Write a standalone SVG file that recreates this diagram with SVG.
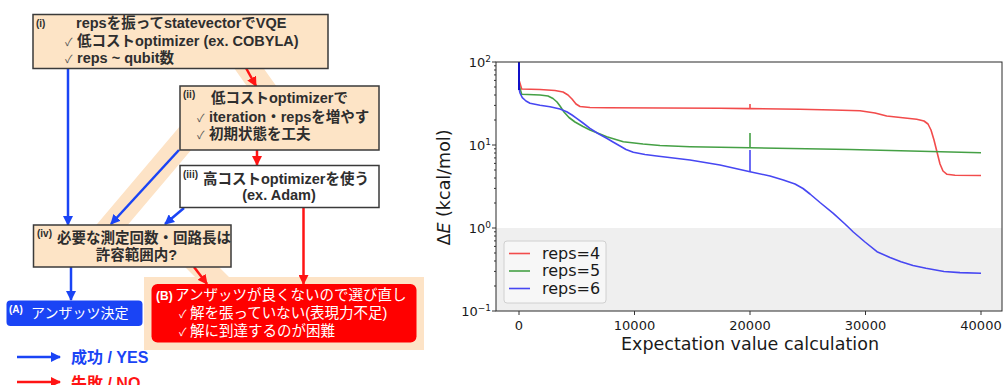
<svg xmlns="http://www.w3.org/2000/svg" width="1004" height="385" viewBox="0 0 1004 385">
<style>
.box{fill:#fde4c6;stroke:#3a3a3a;stroke-width:1.5}
.wbox{fill:#ffffff;stroke:#3a3a3a;stroke-width:1.5}
.t{font-family:"Liberation Sans","Noto Sans CJK JP",sans-serif;font-weight:bold;fill:#2e2e2e;font-size:14.5px}
.sm{font-size:10px}
.ck{font-weight:normal;fill:#555;font-size:11px}
.w{font-family:"Liberation Sans","Noto Sans CJK JP",sans-serif;fill:#ffffff;font-size:14.5px}
.band{fill:none;stroke:#fde3c6;stroke-width:24;stroke-linejoin:round}
.blue{stroke:#1a44f5;stroke-width:2.5;fill:none;marker-end:url(#ab)}
.red{stroke:#ff1414;stroke-width:2.5;fill:none;marker-end:url(#ar)}
.dv{font-family:"DejaVu Sans",sans-serif;fill:#1a1a1a}
.tick{stroke:#333;stroke-width:1}
.cr{fill:none;stroke:#f24b4b;stroke-width:1.6;stroke-linejoin:round}
.cg{fill:none;stroke:#45a045;stroke-width:1.6;stroke-linejoin:round}
.cb{fill:none;stroke:#4747f2;stroke-width:1.6;stroke-linejoin:round}
</style>
<defs>
<marker id="ab" viewBox="0 0 10 10" refX="9" refY="5" markerUnits="userSpaceOnUse" markerWidth="10" markerHeight="10" orient="auto"><path d="M0,0 L10,5 L0,10 z" fill="#1a44f5"/></marker>
<marker id="ar" viewBox="0 0 10 10" refX="9" refY="5" markerUnits="userSpaceOnUse" markerWidth="10" markerHeight="10" orient="auto"><path d="M0,0 L10,5 L0,10 z" fill="#ff1414"/></marker>
</defs>
<rect width="1004" height="385" fill="#ffffff"/>

<g id="highlight">
<polyline class="band" points="236,50 270,98 200,121 95,245 180,245 225,290"/>
<rect x="144" y="277" width="280" height="73" fill="#fde3c6"/>
</g>

<g id="connectors">
<line class="blue" x1="68" y1="68" x2="68" y2="225"/>
<line class="blue" x1="179" y1="150" x2="111" y2="224"/>
<line class="blue" x1="184" y1="208" x2="165" y2="224"/>
<line class="blue" x1="71" y1="267" x2="71" y2="300"/>
<line class="red" x1="246" y1="68" x2="256" y2="86"/>
<line class="red" x1="257" y1="150" x2="257" y2="165"/>
<line class="red" x1="303.5" y1="208" x2="303.5" y2="284"/>
<line class="red" x1="194" y1="267" x2="207" y2="284"/>
</g>

<g id="node-i">
<rect class="box" x="33" y="14.5" width="295" height="54"/>
<text class="t sm" x="36" y="27">(i)</text>
<text class="t" x="76" y="28">repsを振ってstatevectorでVQE</text>
<text class="t" x="65" y="46"><tspan class="ck">✓</tspan><tspan x="77">低コストoptimizer (ex. COBYLA)</tspan></text>
<text class="t" x="65" y="63"><tspan class="ck">✓</tspan><tspan x="77">reps ~ qubit数</tspan></text>
</g>

<g id="node-ii">
<rect class="box" x="180" y="86" width="199" height="64"/>
<text class="t sm" x="183" y="98">(ii)</text>
<text class="t" x="211" y="103">低コストoptimizerで</text>
<text class="t" x="197" y="121.5"><tspan class="ck">✓</tspan><tspan x="209">iteration・repsを増やす</tspan></text>
<text class="t" x="197" y="138.5"><tspan class="ck">✓</tspan><tspan x="209">初期状態を工夫</tspan></text>
</g>

<g id="node-iii">
<rect class="wbox" x="180" y="165.5" width="199" height="42"/>
<text class="t sm" x="183" y="178">(iii)</text>
<text class="t" x="203" y="184">高コストoptimizerを使う</text>
<text class="t" x="279" y="200" text-anchor="middle">(ex. Adam)</text>
</g>

<g id="node-iv">
<rect class="box" x="33.5" y="225" width="197.5" height="42"/>
<text class="t sm" x="37" y="237">(iv)</text>
<text class="t" x="57" y="243">必要な測定回数・回路長は</text>
<text class="t" x="136.5" y="259.5" text-anchor="middle">許容範囲内?</text>
</g>

<g id="node-A">
<rect x="6.5" y="300.5" width="136" height="25.5" rx="4" fill="#1a44f5"/>
<text class="w" x="9" y="313" font-size="10" font-weight="bold" style="font-size:10px">(A)</text>
<text class="w" x="31" y="318" style="font-size:14px">アンザッツ決定</text>
</g>

<g id="node-B">
<rect x="151.5" y="284" width="265" height="58.5" rx="6" fill="#ff0000"/>
<text class="w" x="156" y="300"><tspan font-weight="bold" style="font-size:12px">(B)</tspan><tspan x="175">アンザッツが良くないので選び直し</tspan></text>
<text class="w" x="179" y="318"><tspan style="font-size:11px">✓</tspan><tspan x="190">解を張っていない(表現力不足)</tspan></text>
<text class="w" x="179" y="336"><tspan style="font-size:11px">✓</tspan><tspan x="190">解に到達するのが困難</tspan></text>
</g>

<g id="legend-flow">
<line x1="17" y1="357" x2="60" y2="357" stroke="#1a44f5" stroke-width="2.5" marker-end="url(#ab)"/>
<text class="t" x="71" y="363" style="fill:#1a44f5;font-size:16px">成功 / YES</text>
<line x1="17" y1="382" x2="60" y2="382" stroke="#ff1414" stroke-width="2.5" marker-end="url(#ar)"/>
<text class="t" x="71" y="389" style="fill:#ff1414;font-size:16px">失敗 / NO</text>
</g>

<g id="chart">
<rect x="496" y="62" width="506" height="249" fill="#ffffff"/>
<rect x="496" y="228" width="506" height="83" fill="#efefef"/>

<g id="curves">
<polyline class="cr" points="519,62 519,80 521.7,89 540,89.5 555,90.5 563,92 568,95 572,99 576,104 580,106.5 590,107.5 606.7,107.7 720,108.3 750,108.6 800,109.3 833,110 860,110.7 875,113 886.7,116 905,118 916.7,119.3 924,121 928,124 931,130 934,140 937,152 940,164 943,171 947,174.3 955,175.2 981,175.5"/>
<line class="cr" x1="750" y1="104" x2="750" y2="108.6"/>
<polyline class="cg" points="519,62 519,85 521.7,94.3 540,95 548,96 553,98.5 557,102 560,106 564,112 569,117.5 575,122 583,126.5 590,130 600,134 606.7,136.7 623.3,141.7 643,144 660,145.5 690,146.7 720,147.3 750,147.8 850,149.5 981,152.7"/>
<line class="cg" x1="750" y1="133" x2="750" y2="147.8"/>
<polyline class="cb" points="519,62 519,88 520,93 522.3,97.7 526,101 530,103.3 540,105.3 550,106.7 560,109 566.7,111.7 572,115 576.7,118.3 583,123 590,128.3 598,133.5 606.7,138.3 613,142 620,146 626,149.5 633.3,152.3 645,154.5 656.7,156 690,160 720,165 750,171.7 770,176 783.3,180 795,184 803,188.5 810,194 820,202.5 833.3,213.3 845,224 853.3,232 865,242 877,251.7 890,257.5 901,261.7 913,265.5 926,268.3 944,271.5 960,272.6 981,273.3"/>
<line class="cb" x1="750" y1="150" x2="750" y2="171.7"/>
<line x1="519" y1="62" x2="519" y2="90" stroke="#1010c8" stroke-width="2"/>
</g>

<rect x="496" y="62" width="506" height="249" fill="none" stroke="#2a2a2a" stroke-width="1"/>

<g id="yticks" class="tick">
<line x1="492" y1="62" x2="496" y2="62"/>
<line x1="492" y1="145" x2="496" y2="145"/>
<line x1="492" y1="228" x2="496" y2="228"/>
<line x1="492" y1="311" x2="496" y2="311"/>
<path d="M494,65.8H496M494,70H496M494,74.9H496M494,80.4H496M494,87H496M494,95H496M494,105.4H496M494,120H496M494,148.8H496M494,153H496M494,157.9H496M494,163.4H496M494,170H496M494,178H496M494,188.4H496M494,203H496M494,231.8H496M494,236H496M494,240.9H496M494,246.4H496M494,253H496M494,261H496M494,271.4H496M494,286H496" stroke="#333"/>
</g>
<g id="xticks" class="tick">
<line x1="519" y1="311" x2="519" y2="315"/>
<line x1="634.5" y1="311" x2="634.5" y2="315"/>
<line x1="750" y1="311" x2="750" y2="315"/>
<line x1="865.5" y1="311" x2="865.5" y2="315"/>
<line x1="981" y1="311" x2="981" y2="315"/>
</g>
<g id="ylabels" class="dv" font-size="13">
<text x="491" y="67" text-anchor="end">10<tspan font-size="9" dy="-5">2</tspan></text>
<text x="491" y="150" text-anchor="end">10<tspan font-size="9" dy="-5">1</tspan></text>
<text x="491" y="233" text-anchor="end">10<tspan font-size="9" dy="-5">0</tspan></text>
<text x="491" y="316" text-anchor="end">10<tspan font-size="9" dy="-5">−1</tspan></text>
</g>
<g id="xlabels" class="dv" font-size="13" text-anchor="middle">
<text x="519" y="330">0</text>
<text x="634.5" y="330">10000</text>
<text x="750" y="330">20000</text>
<text x="865.5" y="330">30000</text>
<text x="981" y="330">40000</text>
</g>
<text class="dv" x="750" y="350" font-size="17.5" text-anchor="middle">Expectation value calculation</text>
<text class="dv" transform="translate(450,187.5) rotate(-90)" font-size="17.5" text-anchor="middle">Δ<tspan font-style="italic">E</tspan> (kcal/mol)</text>

<g id="plot-legend">
<rect x="504" y="241" width="102" height="62" rx="3" fill="#f7f7f7" fill-opacity="0.9" stroke="#d0d0d0" stroke-width="1"/>
<line x1="509" y1="253.5" x2="530" y2="253.5" stroke="#f24b4b" stroke-width="1.6"/>
<line x1="509" y1="271" x2="530" y2="271" stroke="#45a045" stroke-width="1.6"/>
<line x1="509" y1="288.5" x2="530" y2="288.5" stroke="#4747f2" stroke-width="1.6"/>
<text class="dv" x="542" y="258.5" font-size="16">reps=4</text>
<text class="dv" x="542" y="276" font-size="16">reps=5</text>
<text class="dv" x="542" y="293.5" font-size="16">reps=6</text>
</g>
</g>
</svg>
